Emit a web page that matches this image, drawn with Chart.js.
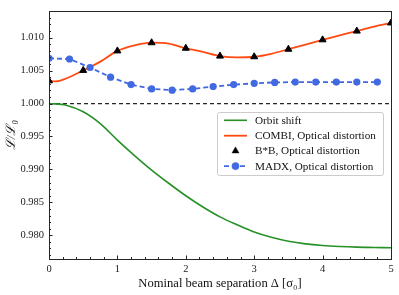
<!DOCTYPE html>
<html>
<head>
<meta charset="utf-8">
<script src="https://cdn.jsdelivr.net/npm/chart.js@4.4.0/dist/chart.umd.min.js"></script>
<style>
html,body{margin:0;padding:0;background:#fff;}
#wrap{width:399px;height:295px;position:relative;}
</style>
</head>
<body>
<div id="wrap"><canvas id="c" width="399" height="295"></canvas></div>
<script>
// ---- data ----
const orbitX = [0,0.25,0.5,0.75,1.0,1.25,1.5,1.75,2.0,2.25,2.5,2.75,3.0,3.25,3.5,3.75,4.0,4.25,4.5,4.75,5.0];
const orbitY = [1.0000,0.99975,0.99875,0.99695,0.99445,0.99210,0.98990,0.98790,0.98600,0.98430,0.98280,0.98160,0.98050,0.97970,0.97910,0.97870,0.97845,0.97830,0.97820,0.97815,0.97810];

const combiX = [0,0.1,0.25,0.5,0.75,1.0,1.25,1.5,1.75,2.0,2.25,2.5,2.75,3.0,3.25,3.5,3.75,4.0,4.25,4.5,4.75,5.0];
const combiY = [1.00345,1.00336,1.00380,1.00503,1.00636,1.00799,1.00883,1.00923,1.00908,1.00839,1.00784,1.00720,1.00701,1.00710,1.00755,1.00824,1.00894,1.00967,1.01036,1.01100,1.01169,1.01223];

const bbX = [0,0.5,1.0,1.5,2.0,2.5,3.0,3.5,4.0,4.5,5.0];
const bbY = [1.00345,1.00503,1.00799,1.00923,1.00839,1.00720,1.00710,1.00824,1.00967,1.01100,1.01223];

const madxX = [0,0.3,0.6,0.9,1.2,1.5,1.8,2.1,2.4,2.7,3.0,3.3,3.6,3.9,4.2,4.5,4.8];
const madxY = [1.00686,1.00676,1.00547,1.00400,1.00287,1.00222,1.00203,1.00222,1.00257,1.00287,1.00306,1.00321,1.00325,1.00325,1.00325,1.00325,1.00325];

const refX = [0,5];
const refY = [1.0,1.0];

const yTickVals = [0.980,0.985,0.990,0.995,1.000,1.005,1.010];
const xTickVals = [0,1,2,3,4,5];

const labels = ["Orbit shift","COMBI, Optical distortion","B*B, Optical distortion","MADX, Optical distortion"];

const pts = (xs, ys) => xs.map((x,i)=>({x:x, y:ys[i]}));

const SERIF = "'Liberation Serif','DejaVu Serif',serif";

const frameAndTicks = {
  id:'frameAndTicks',
  afterDatasetsDraw(chart){
    const ctx = chart.ctx, a = chart.chartArea;
    const xs = chart.scales.x, ys = chart.scales.y;
    ctx.save();
    ctx.strokeStyle = '#262626';
    ctx.lineWidth = 1;
    ctx.beginPath();
    for (let k=0;k<=25;k++){
      const v = k*0.2;
      const px = Math.round(xs.getPixelForValue(v))+0.5;
      const len = (k%5===0)?3.5:2;
      ctx.moveTo(px, a.bottom); ctx.lineTo(px, a.bottom-len);
    }
    for (let k=977;k<=1013;k++){
      const v = k/1000;
      const py = Math.round(ys.getPixelForValue(v))+0.5;
      const len = (k%5===0)?3.5:2;
      ctx.moveTo(a.left, py); ctx.lineTo(a.left+len, py);
    }
    ctx.stroke();
    ctx.strokeRect(Math.round(a.left)+0.5, Math.round(a.top)+0.5, Math.round(a.right-a.left), Math.round(a.bottom-a.top));
    ctx.restore();
  },
  afterDraw(chart){
    const ctx = chart.ctx;
    const ds = chart.data.datasets;
    const bx=217, by=112, bw=166, bh=63;
    ctx.save();
    ctx.fillStyle='rgba(255,255,255,0.85)';
    ctx.strokeStyle='#cccccc';
    ctx.lineWidth=1;
    ctx.beginPath();
    if (ctx.roundRect) ctx.roundRect(bx+0.5,by+0.5,bw,bh,2); else ctx.rect(bx+0.5,by+0.5,bw,bh);
    ctx.fill(); ctx.stroke();
    const rows=[120.3,135.7,150.9,166.1];
    const x0=224, x1=247, xc=235.5;
    ctx.font = "11.2px " + SERIF;
    ctx.textBaseline='middle';
    for (let i=0;i<4;i++){
      const d = ds[i], y = rows[i];
      ctx.save();
      if (d.showLine !== false){
        ctx.strokeStyle=d.borderColor; ctx.lineWidth=d.borderWidth;
        ctx.setLineDash(d.borderDash||[]);
        ctx.beginPath(); ctx.moveTo(x0,y); ctx.lineTo(x1,y); ctx.stroke();
        ctx.setLineDash([]);
      }
      if (d.pointRadius>0){
        ctx.fillStyle=d.backgroundColor; ctx.strokeStyle=d.backgroundColor; ctx.lineWidth=0.5;
        Chart.helpers.drawPoint(ctx,{pointStyle:d.pointStyle,radius:d.pointRadius,borderWidth:0.5,rotation:0},xc,y);
      }
      ctx.restore();
      ctx.fillStyle='#111';
      ctx.fillText(labels[i], 255, y+0.5);
    }
    ctx.restore();
  }
};

new Chart(document.getElementById('c'), {
  type:'scatter',
  data:{
    datasets:[
      {label:labels[0], data:pts(orbitX,orbitY), showLine:true, borderColor:'#279127', backgroundColor:'#279127', borderWidth:1.6, pointRadius:0, cubicInterpolationMode:'monotone', order:4},
      {label:labels[1], data:pts(combiX,combiY), showLine:true, borderColor:'#ff4a12', backgroundColor:'#ff4a12', borderWidth:1.8, pointRadius:0, cubicInterpolationMode:'monotone', order:3},
      {label:labels[2], data:pts(bbX,bbY), showLine:false, borderColor:'#000', backgroundColor:'#000', pointStyle:'triangle', pointRadius:4, borderWidth:1, order:1},
      {label:labels[3], data:pts(madxX,madxY), showLine:true, borderColor:'#4169e1', backgroundColor:'#4169e1', borderWidth:1.8, borderDash:[5,3], pointStyle:'circle', pointRadius:3.6, pointBorderWidth:0, tension:0, order:2},
      {label:'ref', data:pts(refX,refY), showLine:true, borderColor:'#262626', borderWidth:1.2, borderDash:[4,3], pointRadius:0, order:5}
    ]
  },
  options:{
    responsive:false, animation:false, maintainAspectRatio:false,
    layout:{padding:{left:0,right:8,top:5,bottom:0}},
    plugins:{legend:{display:false}, tooltip:{enabled:false}},
    scales:{
      x:{
        type:'linear', min:0, max:5,
        afterBuildTicks(s){ s.ticks = xTickVals.map(v=>({value:v})); },
        afterFit(s){ s.height = 36; },
        grid:{display:false, drawTicks:false},
        border:{display:false},
        ticks:{padding:4, color:'#222', font:{family:SERIF, size:10.5}, callback:v=>String(v), maxRotation:0, autoSkip:false},
        title:{display:true, text:'Nominal beam separation Δ [σ₀]', color:'#111', font:{family:SERIF, size:12.6}, padding:{top:0,bottom:4}}
      },
      y:{
        type:'linear', min:0.9764, max:1.0140,
        afterBuildTicks(s){ s.ticks = yTickVals.map(v=>({value:v})); },
        afterFit(s){ s.width = 49; },
        grid:{display:false, drawTicks:false},
        border:{display:false},
        ticks:{padding:5, color:'#222', font:{family:SERIF, size:10.5}, callback:v=>Number(v).toFixed(3), autoSkip:false},
        title:{display:true, text:'ℒ/ℒ₀', color:'#111', font:{family:SERIF, size:13, style:'italic'}, padding:{top:4,bottom:0}}
      }
    }
  },
  plugins:[frameAndTicks]
});
</script>
</body>
</html>
